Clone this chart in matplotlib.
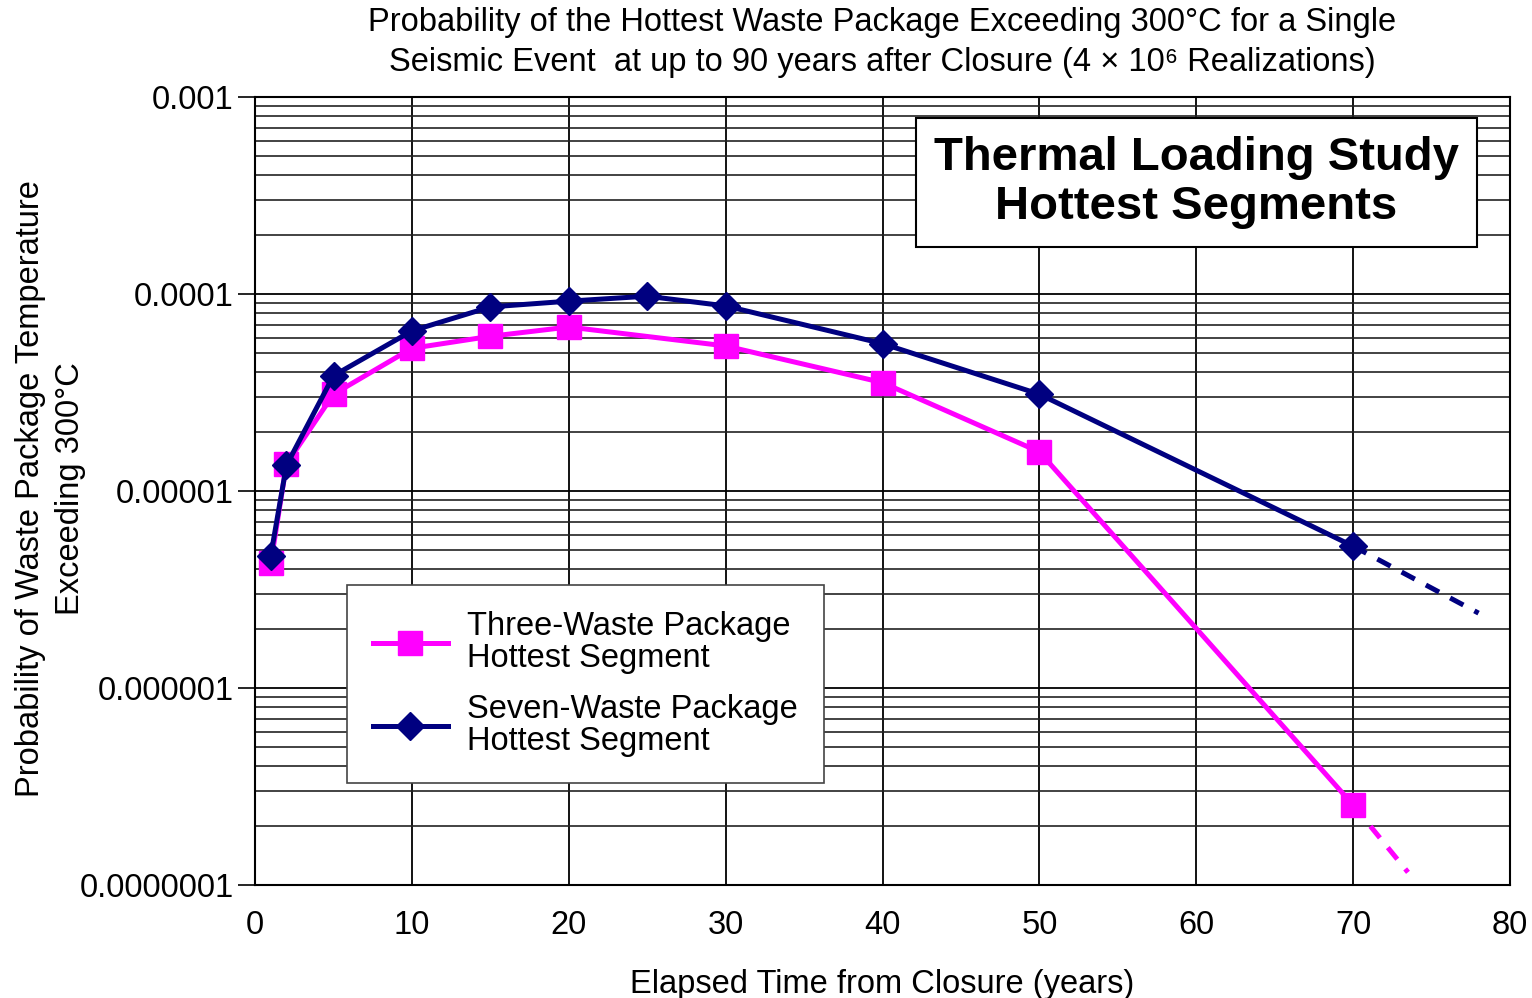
import matplotlib
matplotlib.use("Agg")
import matplotlib.pyplot as plt
from matplotlib.ticker import FixedLocator, FixedFormatter, LogLocator, NullFormatter

plt.rcParams['font.family'] = ['Liberation Sans', 'DejaVu Sans']

# Three-Waste Package hottest segment (magenta squares)
three_years = [1, 2, 5, 10, 15, 20, 30, 40, 50, 70]
three_prob = [4.3e-6, 1.37e-5, 3.1e-5, 5.3e-5, 6.1e-5, 6.8e-5, 5.45e-5, 3.55e-5, 1.58e-5, 2.55e-7]
three_ext_years = [70, 73.5]
three_ext_prob = [2.55e-7, 1.16e-7]

# Seven-Waste Package hottest segment (navy diamonds)
seven_years = [1, 2, 5, 10, 15, 20, 25, 30, 40, 50, 70]
seven_prob = [4.7e-6, 1.35e-5, 3.85e-5, 6.5e-5, 8.6e-5, 9.2e-5, 9.75e-5, 8.7e-5, 5.6e-5, 3.1e-5, 5.25e-6]
seven_ext_years = [70, 78]
seven_ext_prob = [5.25e-6, 2.4e-6]

y_ticks = [1e-7, 1e-6, 1e-5, 1e-4, 1e-3]
y_labels = ["0.0000001", "0.000001", "0.00001", "0.0001", "0.001"]

magenta = "#ff00ff"
navy = "#000080"

fig = plt.figure(figsize=(15.32, 9.98), dpi=100)
ax = fig.add_axes([0.1665, 0.1132, 0.8191, 0.7896])

ax.set_yscale("log")
ax.set_xlim(0, 80)
ax.set_ylim(1e-7, 1e-3)

# dashed extrapolations past 70 years
ax.plot(three_ext_years, three_ext_prob, color=magenta, lw=3.6, ls=(0, (3, 2.5)), zorder=3)
ax.plot(seven_ext_years, seven_ext_prob, color=navy, lw=3.6, ls=(0, (3, 2.5)), zorder=3)

ax.plot(three_years, three_prob, color=magenta, lw=3.6, marker="s", ms=17,
        label="Three-Waste Package\nHottest Segment", zorder=4)
ax.plot(seven_years, seven_prob, color=navy, lw=3.6, marker="D", ms=14,
        label="Seven-Waste Package\nHottest Segment", zorder=5)

ax.set_xticks(range(0, 81, 10))
ax.yaxis.set_major_locator(FixedLocator(y_ticks))
ax.yaxis.set_major_formatter(FixedFormatter(y_labels))
ax.yaxis.set_minor_locator(LogLocator(base=10, subs=range(2, 10)))
ax.yaxis.set_minor_formatter(NullFormatter())
ax.tick_params(axis="y", which="minor", length=0)
ax.tick_params(axis="both", which="major", labelsize=23.5, length=12, width=1.2, color="black")
ax.tick_params(axis="x", which="major", length=0, pad=18)

ax.grid(True, which="major", axis="both", color="black", lw=1.3)
ax.grid(True, which="minor", axis="y", color="#222222", lw=1.2)
ax.set_axisbelow(True)
for s in ax.spines.values():
    s.set_linewidth(1.5)

ax.set_xlabel("Elapsed Time from Closure (years)", fontsize=23.5, labelpad=20)
ax.set_ylabel("Probability of Waste Package Temperature\nExceeding 300°C", fontsize=23.5,
              linespacing=1.35, va="center")
ax.yaxis.set_label_coords(-0.163, 0.5025)
ax.set_title("Probability of the Hottest Waste Package Exceeding 300°C for a Single\n"
             "Seismic Event  at up to 90 years after Closure (4 × 10⁶ Realizations)",
             fontsize=23.5, pad=19, linespacing=1.35)

ax.text(0.75, 0.891, "Thermal Loading Study\nHottest Segments", transform=ax.transAxes,
        ha="center", va="center", fontsize=34, fontweight="bold", linespacing=1.15,
        bbox=dict(boxstyle="square,pad=0.38", facecolor="white", edgecolor="black", lw=1.5),
        zorder=6)

leg = ax.legend(loc="upper left", bbox_to_anchor=(0.073, 0.381), fontsize=23.5, frameon=True,
                fancybox=False, edgecolor="#444444", framealpha=1, handlelength=2.3,
                handletextpad=0.6, borderpad=0.8, labelspacing=0.6, borderaxespad=0)
for t in leg.get_texts():
    t.set_linespacing(1.05)
leg.get_frame().set_linewidth(1.2)
leg.set_zorder(6)

fig.savefig("out.png", dpi=100, facecolor="white")
